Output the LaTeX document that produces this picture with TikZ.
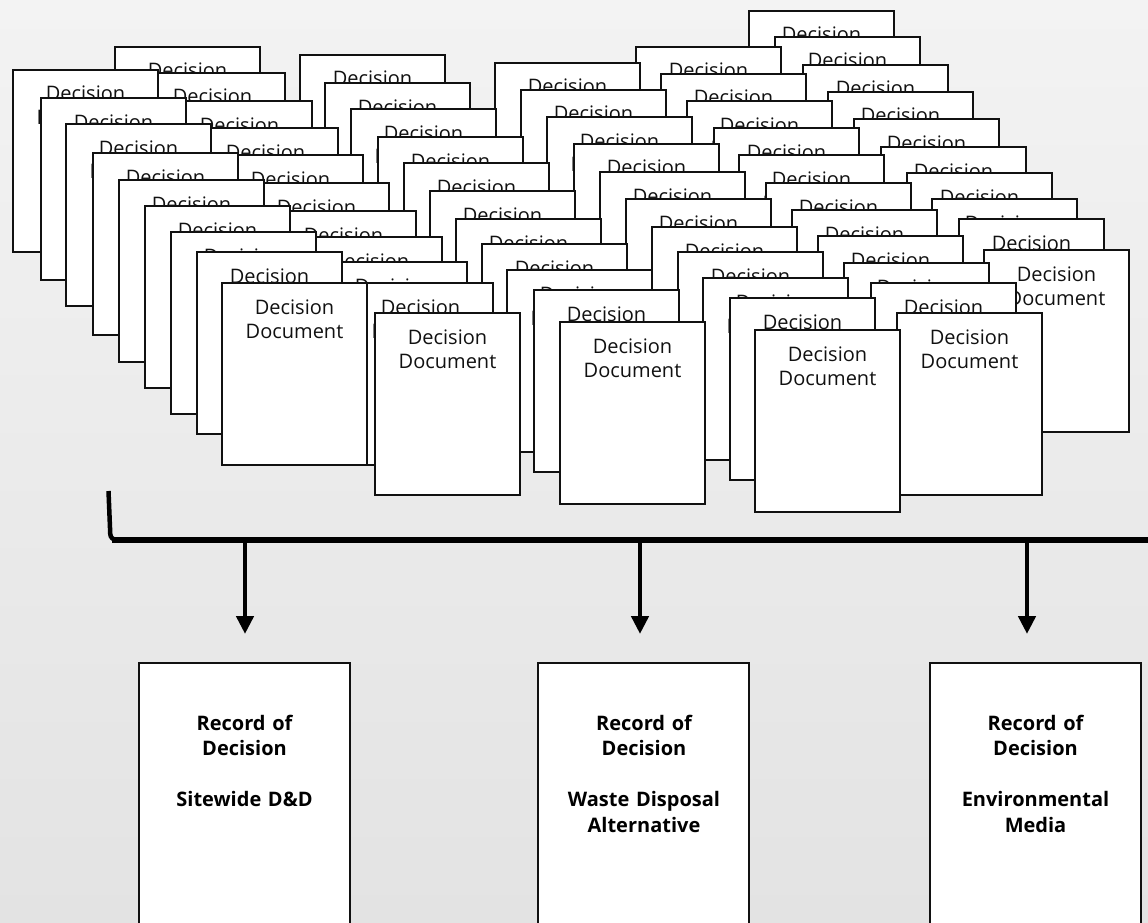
\documentclass[tikz,border=0pt]{standalone}
\usepackage{fontspec}
\setmainfont{Open Sans}
\usetikzlibrary{arrows.meta}
\definecolor{bgtop}{HTML}{F3F3F3}
\definecolor{bgbot}{HTML}{E3E3E3}
\definecolor{ink}{HTML}{111111}
\begin{document}
\begin{tikzpicture}[x=1pt,y=-1pt,
  card/.style={draw=ink, fill=white, line width=2.2pt, minimum width=145pt, minimum height=182pt, anchor=north west, inner sep=0pt, outer sep=0pt},
  cardtext/.style={anchor=base, align=center, text width=145pt, inner sep=0pt, font=\fontsize{20}{24}\selectfont, text=ink},
  rodbox/.style={draw=ink, fill=white, line width=2.4pt, minimum width=211pt, minimum height=300pt, anchor=north west, inner sep=0pt, outer sep=0pt},
  rodtext/.style={anchor=base, align=center, text width=211pt, inner sep=0pt, font=\bfseries\fontsize{20}{25.5}\selectfont, text=black},
  arr/.style={line width=4.5pt, -{Triangle[length=18pt,width=17pt]}, draw=black}
]
\useasboundingbox (0,0) rectangle (1148,923);
\shade[top color=bgtop, bottom color=bgbot] (0,0) rectangle (1148,923);
\clip (0,0) rectangle (1148,923);

% stack 6 (back-most)
\foreach \x/\y [count=\i] in {749/11,775/37,803/65,828/92,854/119,881/147,907/173,932/199,959/219,984/250}{
  \node[card] (sf\i) at (\x,\y) {};
  \node[cardtext] (tf\i) at (\x+72.5,\y+31) {Decision\\Document};
}
% stack 5
\foreach \x/\y [count=\i] in {636/47,661/74,687/101,714/128,739/155,766/183,792/210,818/236,844/263,871/283,897/313}{
  \node[card] (se\i) at (\x,\y) {};
  \node[cardtext] (te\i) at (\x+72.5,\y+31) {Decision\\Document};
}
% stack 4
\foreach \x/\y [count=\i] in {495/63,521/90,547/117,574/144,600/172,626/199,652/227,678/252,703/278,730/298,755/330}{
  \node[card] (sd\i) at (\x,\y) {};
  \node[cardtext] (td\i) at (\x+72.5,\y+31) {Decision\\Document};
}
% stack 3
\foreach \x/\y [count=\i] in {300/55,325/83,351/109,378/137,404/163,430/191,456/219,482/244,507/270,534/290,560/322}{
  \node[card] (sc\i) at (\x,\y) {};
  \node[cardtext] (tc\i) at (\x+72.5,\y+31) {Decision\\Document};
}
% stack 2
\foreach \x/\y [count=\i] in {115/47,140/73,167/101,193/128,218/155,244/183,271/211,297/237,322/262,348/283,375/313}{
  \node[card] (sb\i) at (\x,\y) {};
  \node[cardtext] (tb\i) at (\x+72.5,\y+31) {Decision\\Document};
}
% stack 1 (front-most)
\foreach \x/\y [count=\i] in {13/70,41/98,66/124,93/153,119/180,145/206,171/232,197/252,222/283}{
  \node[card] (sa\i) at (\x,\y) {};
  \node[cardtext] (ta\i) at (\x+72.5,\y+31) {Decision\\Document};
}

% bracket
\coordinate (b0) at (108.5,491);
\coordinate (b1) at (110.5,540);
\coordinate (b2) at (126,540);
\coordinate (b3) at (112,540);
\coordinate (b4) at (1152,540);
\draw[line width=4.5pt, rounded corners=6pt, draw=black] (b0) -- (b1) -- (b2);
\draw[line width=6pt, draw=black] (b3) -- (b4);

% record of decision boxes
\node[rodbox] (rod1) at (139,663) {};
\node[rodbox] (rod2) at (538,663) {};
\node[rodbox] (rod3) at (930,663) {};
\node[rodtext] (rt1) at (244.5,730) {Record of\\Decision\\[25.5pt]Sitewide D\&D};
\node[rodtext] (rt2) at (644,730) {Record of\\Decision\\[25.5pt]Waste Disposal\\Alternative};
\node[rodtext] (rt3) at (1035.5,730) {Record of\\Decision\\[25.5pt]Environmental\\Media};

% arrows
\coordinate (a1s) at (245,543);
\coordinate (a1e) at (245,634);
\coordinate (a2s) at (640,543);
\coordinate (a2e) at (640,634);
\coordinate (a3s) at (1027,543);
\coordinate (a3e) at (1027,634);
\draw[arr] (a1s) -- (a1e);
\draw[arr] (a2s) -- (a2e);
\draw[arr] (a3s) -- (a3e);
\end{tikzpicture}
\end{document}
